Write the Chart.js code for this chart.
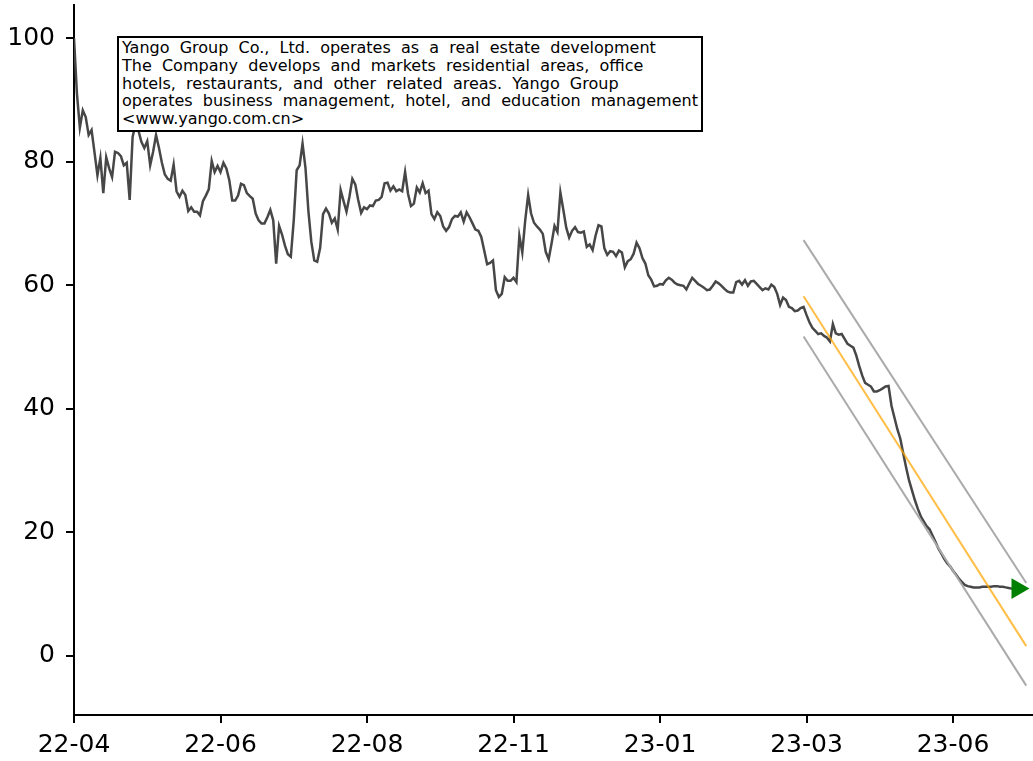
<!DOCTYPE html>
<html><head><meta charset="utf-8">
<script src="https://cdn.jsdelivr.net/npm/chart.js@4"></script>
<style>
html,body{margin:0;padding:0;background:#fff;}
#wrap{position:relative;width:1033px;height:761px;overflow:hidden;}
canvas{display:block;}
#note{position:absolute;left:117px;top:36px;width:579px;height:91px;border:2px solid #000;background:#fff;
 font-family:"DejaVu Sans";font-size:16px;line-height:17.8px;padding:1px 0 0 3px;color:#000;}
#note div{white-space:pre;}
</style></head>
<body><div id="wrap"><canvas id="c" width="1033" height="761"></canvas>
<div id="note">
<div>Yango  Group  Co.,  Ltd.  operates  as  a  real  estate  development</div>
<div>The  Company  develops  and  markets  residential  areas,  office</div>
<div>hotels,  restaurants,  and  other  related  areas.  Yango  Group</div>
<div>operates  business  management,  hotel,  and  education  management</div>
<div>&lt;www.yango.com.cn&gt;</div>
</div></div>
<script>
const dateLabels = ['22-04','22-06','22-08','22-11','23-01','23-03','23-06'];
const tickIndex = [0,50,100,150,200,250,300];
const yTicks = [0,20,40,60,80,100];
const price = [
100,91,85.5,88.3,87.2,84.3,85.1,81.5,77.8,80.6,
74.9,80.7,78.9,77.5,81.6,81.4,80.9,79.4,79.8,73.8,
84,86,85,83.2,82.2,83.3,79.4,81.6,84.3,82.2,
79.8,77.9,77.2,76.9,79.5,75.2,74.3,75.3,74.6,72,
72.6,71.9,71.9,71.3,73.6,74.5,75.5,80.1,78.3,79.3,
78.3,79.8,78.9,77.0,73.7,73.7,74.5,76.4,76.2,74.9,
74.4,74,71.6,70.5,70.0,70.0,71,72.2,70.5,63.5,
69.6,68.2,66.4,65,64.6,70.5,78.6,79.4,82.9,79,
72,67,64,63.8,66.0,71.5,72.4,71.6,70.1,70.8,
69,75.4,73.6,71.9,74.3,77.2,76.3,73.8,71.7,72.6,
72.3,72.9,72.8,73.7,73.8,74.3,76.5,76.6,75.3,76,
75.2,75.5,75.2,78.3,74.8,72.8,73.2,75.8,75,76.5,
74.9,75.3,71.5,70.7,71.8,71.2,69.5,68.8,69.4,70.7,
71.2,71.1,71.8,70.3,71.8,71,70,69,68.8,67.8,
65.6,63.4,63.6,64.0,59.2,58.1,58.6,61.3,60.7,60.7,
61.2,60.5,68,65.3,70.5,74.6,71.6,70.1,69.5,69,
68.3,65.4,64.2,66.8,69.6,68.6,75,72.2,69.3,67.7,
68.8,69.4,68.6,68.5,68.7,66.2,66.6,65.7,68,69.7,
69.5,66,64.9,65.5,65.4,64.7,65.6,65.3,62.9,63.9,
64.2,65.1,66.9,66,64.4,63.5,61.6,60.9,59.8,59.9,
60.2,60.1,60.8,61.2,60.9,60.4,60.1,60.0,59.9,59.3,
60.3,61.2,60.7,60.2,59.9,59.6,59.2,59.3,59.9,60.6,
60.3,59.9,59.4,59.0,58.8,58.8,60.5,60.7,60.1,60.8,
59.9,60.6,60.7,60.2,59.7,59.2,59.5,59.3,60.1,59.7,
58.6,56.8,58.0,57.6,56.5,56.3,55.8,55.9,56.3,56.5,
55.2,54.0,53.1,52.6,52.1,52.2,51.8,51.5,50.9,53.7,
52.2,52.0,52.1,51.3,50.5,50.2,49.9,48.6,46.9,45.4,
44.2,43.9,43.6,42.8,42.8,43.0,43.3,43.6,43.7,40.5,
38.6,36.7,35.2,32.8,30.5,28.4,26.8,25.2,23.8,22.6,
21.8,21.0,20.5,19.5,18.5,17.4,16.6,15.7,15.0,14.5,
13.8,13.2,12.5,12.0,11.5,11.3,11.2,11.1,11.1,11.1,
11.2,11.2,11.2,11.2,11.3,11.3,11.2,11.2,11.1,11.0,
10.9,10.9,10.9
];
const trendIdx = [249, 325];
const trendMid = [58.2, 1.6];
const trendUpper = [67.3, 11.8];
const trendLower = [51.7, -4.8];
const xRange = [0, 327.3];
const yRange = [-9.55, 105.34];

const pts = (ys) => trendIdx.map((x,i)=>({x, y: ys[i]}));
const last = price.length - 1;

Chart.defaults.font.family = 'DejaVu Sans';
Chart.defaults.font.size = 25;
Chart.defaults.color = '#000';

new Chart(document.getElementById('c'), {
  type: 'line',
  data: {
    datasets: [
      { data: [{x:last, y:price[last]}], showLine:false, pointStyle:'triangle', rotation:90,
        pointRadius:12, backgroundColor:'#008000', borderWidth:0, pointBorderWidth:0 },
      { data: pts(trendMid), borderColor:'rgba(255,165,0,0.72)', borderWidth:2, pointRadius:0 },
      { data: pts(trendUpper), borderColor:'#aaaaaa', borderWidth:2, pointRadius:0 },
      { data: pts(trendLower), borderColor:'#aaaaaa', borderWidth:2, pointRadius:0 },
      { data: price.map((y,i)=>({x:i,y})), borderColor:'#474747', borderWidth:2.5, pointRadius:0, tension:0 }
    ]
  },
  options: {
    responsive:false, animation:false, devicePixelRatio:1,
    layout:{autoPadding:false, padding:{left:0,right:0,top:5,bottom:0}},
    plugins:{legend:{display:false}, tooltip:{enabled:false}},
    scales:{
      x:{ type:'linear', min:xRange[0], max:xRange[1],
        afterFit:(s)=>{s.height = 46; s.paddingLeft = 0; s.paddingRight = 0;},
        afterBuildTicks:(s)=>{s.ticks = tickIndex.map(v=>({value:v}));},
        ticks:{ padding:7, maxRotation:0, autoSkip:false,
          callback:(v)=>{const k = tickIndex.indexOf(v); return k<0?'':dateLabels[k];} },
        grid:{ drawOnChartArea:false, drawTicks:true, tickLength:8, color:'#000', lineWidth:2 },
        border:{ display:true, color:'#000', width:2 }
      },
      y:{ type:'linear', min:yRange[0], max:yRange[1],
        afterFit:(s)=>{s.width = 74; s.paddingTop = 0; s.paddingBottom = 0;},
        afterBuildTicks:(s)=>{s.ticks = yTicks.map(v=>({value:v}));},
        ticks:{ padding:11, callback:(v)=>String(v) },
        grid:{ drawOnChartArea:false, drawTicks:true, tickLength:8, color:'#000', lineWidth:2 },
        border:{ display:true, color:'#000', width:2 }
      }
    }
  }
});
</script></body></html>
